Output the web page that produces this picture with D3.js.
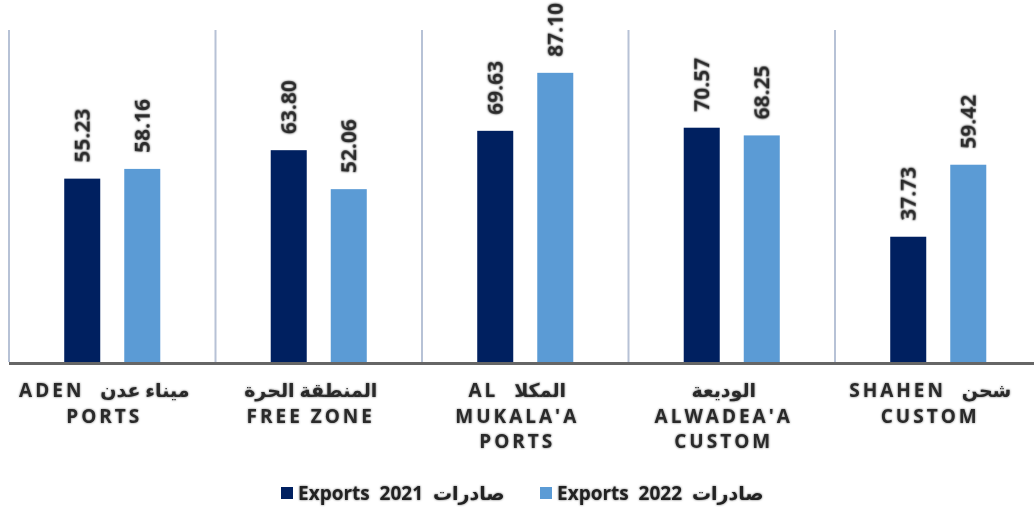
<!DOCTYPE html>
<html><head><meta charset="utf-8">
<script src="https://cdn.jsdelivr.net/npm/d3@7"></script>
<style>
html,body{margin:0;padding:0;background:#fff;}
svg{display:block;}
</style></head>
<body>
<svg id="c" width="1034" height="514"></svg>
<script>
const categories = ["Aden", "FreeZone", "Mukala", "Alwadea", "Shahen"];
const categoryLines = [
  ["ADEN  ميناء عدن", "PORTS"],
  ["المنطقة الحرة", "FREE ZONE"],
  ["AL  المكلا", "MUKALA'A", "PORTS"],
  ["الوديعة", "ALWADEA'A", "CUSTOM"],
  ["SHAHEN  شحن", "CUSTOM"]
];
const exports2021 = [55.23, 63.80, 69.63, 70.57, 37.73];
const exports2022 = [58.16, 52.06, 87.10, 68.25, 59.42];
const seriesNames = ["Exports  2021  صادرات", "Exports  2022  صادرات"];
const seriesKeys = ["e2021", "e2022"];
const colors = ["#002060", "#5B9BD5"];

const rows = categories.map((c, i) => ({cat: c, e2021: exports2021[i], e2022: exports2022[i]}));

const svg = d3.select("#c");
const defs = svg.append("defs");
const f = defs.append("filter").attr("id", "glow").attr("x", "-20%").attr("y", "-20%").attr("width", "140%").attr("height", "140%");
f.append("feGaussianBlur").attr("in", "SourceAlpha").attr("stdDeviation", 1.1).attr("result", "b");
f.append("feFlood").attr("flood-color", "#000").attr("flood-opacity", 0.55).attr("result", "c");
f.append("feComposite").attr("in", "c").attr("in2", "b").attr("operator", "in").attr("result", "s");
const m = f.append("feMerge");
m.append("feMergeNode").attr("in", "s");
m.append("feMergeNode").attr("in", "SourceGraphic");

const plotL = 9, plotR = 1041.5, plotT = 30, plotB = 362;
const x0 = d3.scaleBand().domain(categories).range([plotL, plotR]).paddingInner(0).paddingOuter(0);
const x1 = d3.scaleBand().domain(seriesKeys).range([0, x0.bandwidth()]).paddingInner(0.4).paddingOuter(0.92);
const y = d3.scaleLinear().domain([0, 100]).range([plotB, plotT]);

// vertical category gridlines
svg.append("g").selectAll("line").data(categories).join("line")
  .attr("x1", d => x0(d)).attr("x2", d => x0(d))
  .attr("y1", y(100)).attr("y2", plotB)
  .attr("stroke", "#b7c2d6").attr("stroke-width", 2);

// bars
const g = svg.append("g").selectAll("g").data(rows).join("g")
  .attr("transform", d => `translate(${x0(d.cat)},0)`);
g.selectAll("rect").data(d => seriesKeys.map((k, i) => ({k, i, v: d[k]}))).join("rect")
  .attr("x", d => x1(d.k)).attr("width", x1.bandwidth())
  .attr("y", d => y(d.v)).attr("height", d => y(0) - y(d.v))
  .attr("fill", d => colors[d.i]);

// value labels
g.selectAll("text").data(d => seriesKeys.map((k, i) => ({k, i, v: d[k]}))).join("text")
  .attr("transform", d => `translate(${x1(d.k) + x1.bandwidth() / 2 + 7.5},${y(d.v) - 16}) rotate(-90)`)
  .attr("text-anchor", "start")
  .attr("font-family", "'Open Sans', 'DejaVu Sans', sans-serif")
  .attr("font-weight", "bold").attr("font-size", 21)
  .attr("fill", "#2a2a2a").attr("filter", "url(#glow)")
  .text(d => d3.format(".2f")(d.v));

// baseline axis
svg.append("line").attr("x1", plotL).attr("x2", 1034).attr("y1", plotB + 1.5).attr("y2", plotB + 1.5)
  .attr("stroke", "#666").attr("stroke-width", 3);

// category labels
const cl = svg.append("g").selectAll("text").data(categories).join("text")
  .attr("font-family", "'Open Sans', 'DejaVu Sans', sans-serif")
  .attr("font-weight", "bold").attr("font-size", 19)
  .attr("fill", "#2a2a2a").attr("filter", "url(#glow)")
  .attr("text-anchor", "middle")
  .style("white-space", "pre");
cl.each(function(d, i) {
  const cx = x0(d) + x0.bandwidth() / 2 - 8;
  d3.select(this).selectAll("tspan").data(categoryLines[i]).join("tspan")
    .attr("x", cx).attr("y", (t, j) => 397 + j * 25.5)
    .attr("letter-spacing", 3)
    .text(t => t);
});

// legend
const legX = [281, 540];
const lg = svg.append("g").selectAll("g").data(seriesNames).join("g")
  .attr("transform", (d, i) => `translate(${legX[i]},487)`);
lg.append("rect").attr("width", 12).attr("height", 12).attr("fill", (d, i) => colors[i]);
lg.append("text").attr("x", 17).attr("y", 12.5)
  .attr("font-family", "'Open Sans', 'DejaVu Sans', sans-serif")
  .attr("font-weight", "bold").attr("font-size", 19)
  .attr("fill", "#222").attr("filter", "url(#glow)")
  .style("white-space", "pre")
  .text(d => d);
</script>
</body></html>
